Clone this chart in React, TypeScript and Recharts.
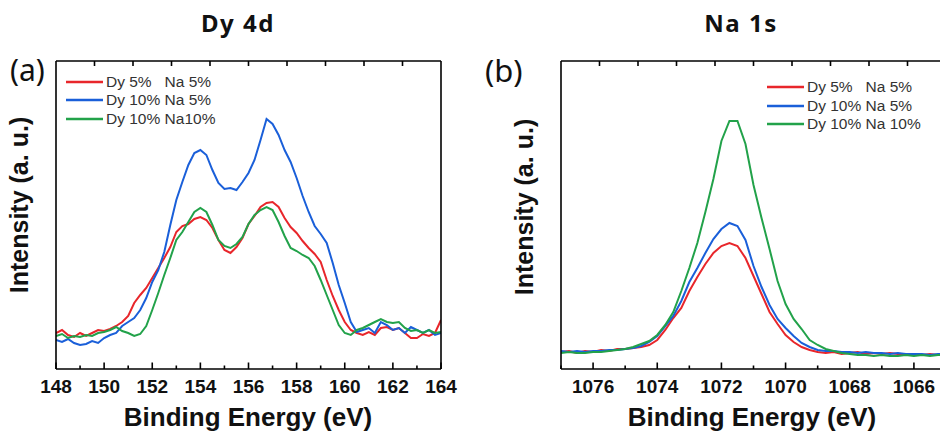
import React from 'react';
import { LineChart, Line, XAxis, YAxis, Legend, ReferenceLine } from 'recharts';

// ---- Dy 4d panel ----
const DY_ENERGY = [148,148.25,148.5,148.75,149,149.25,149.5,149.75,150,150.25,150.5,150.75,151,151.25,151.5,151.75,152,152.25,152.5,152.75,153,153.25,153.5,153.75,154,154.25,154.5,154.75,155,155.25,155.5,155.75,156,156.25,156.5,156.75,157,157.25,157.5,157.75,158,158.25,158.5,158.75,159,159.25,159.5,159.75,160,160.25,160.5,160.75,161,161.25,161.5,161.75,162,162.25,162.5,162.75,163,163.25,163.5,163.75,164];
const DY_RED = [36,39,34,32,36,33,36,39, 38,40,43,47,53,66,74,81, 91,101,111,122,137,143,145,150, 152,149,141,129,119,116,122,131, 145,153,162,166,167,162,151,142, 136,128,121,115,107,89,73,59, 47,39,36,34,37,34,41,42, 39,41,36,31,31,35,33,36, 49];
const DY_BLUE = [29,27,30,26,24,25,28,26, 31,34,36,43,47,51,59,71, 87,99,117,144,169,187,204,216, 219,214,199,186,180,181,179,187, 196,209,229,250,245,234,219,207, 191,173,157,143,135,126,106,84, 66,47,37,39,41,36,47,44, 39,41,36,42,39,36,39,34, 36];
const DY_GREEN = [33,35,31,33,32,34,33,36, 37,39,42,38,36,33,35,43, 59,76,94,111,129,137,147,157, 161,157,144,129,123,121,125,132, 145,154,159,162,159,147,133,121, 118,114,111,103,89,74,59,44, 36,34,39,41,44,47,50,47, 46,47,41,38,39,36,39,36, 37];
const DY_TICKS = [148,149,150,151,152,153,154,155,156,157,158,159,160,161,162,163,164];
const DY_TOP_TICKS = [149.6,151.2,152.8,154.4,156,157.6,159.2,160.8,162.4];

// ---- Na 1s panel ----
const NA_ENERGY = [1077,1076.75,1076.5,1076.25,1076,1075.75,1075.5,1075.25,1075,1074.75,1074.5,1074.25,1074,1073.75,1073.5,1073.25,1073,1072.75,1072.5,1072.25,1072,1071.75,1071.5,1071.25,1071,1070.75,1070.5,1070.25,1070,1069.75,1069.5,1069.25,1069,1068.75,1068.5,1068.25,1068,1067.75,1067.5,1067.25,1067,1066.75,1066.5,1066.25,1066,1065.75,1065.5,1065.25,1065];
const NA_RED = [17,18,16,18,17,19,18,20, 20,21,22,24,29,39,51,61, 78,92,105,116,123,126,123,111, 93,75,57,45,34,27,22,19, 17,16,17,15,16,17,15,16, 15,16,15,14,15,14,15,14, 14];
const NA_BLUE = [18,17,18,17,18,18,19,19, 20,21,23,27,33,43,53,68, 87,101,116,130,140,146,143,129, 103,82,64,50,41,33,26,22, 19,18,18,17,17,16,17,16, 16,15,16,15,15,15,14,15, 15];
const NA_GREEN = [16,17,16,16,17,17,18,19, 20,22,25,28,34,44,57,78, 101,126,157,190,228,248,248,225, 184,151,120,88,65,50,40,29, 24,20,18,16,15,14,14,13, 14,13,13,14,13,14,13,14, 14];
const NA_TICKS = [1065,1066,1067,1068,1069,1070,1071,1072,1073,1074,1075,1076,1077];
const NA_TOP_TICKS = [1075.8,1074.6,1073.4,1072.2,1071,1069.8,1068.6,1067.4,1066.2];

const Y_MAX = 308;
const TOP_TICK_LEN = 5;

const SERIES_KEYS = ['red', 'blue', 'green'];
const DY_NAMES = ['Dy 5%   Na 5%', 'Dy 10% Na 5%', 'Dy 10% Na10%'];
const NA_NAMES = ['Dy 5%   Na 5%', 'Dy 10% Na 5%', 'Dy 10% Na 10%'];

const RED = '#e8262b';
const BLUE = '#1a5fd9';
const GREEN = '#22a24a';

const dyData = DY_ENERGY.map((e, i) => ({ e, red: DY_RED[i], blue: DY_BLUE[i], green: DY_GREEN[i] }));
const naData = NA_ENERGY.map((e, i) => ({ e, red: NA_RED[i], blue: NA_BLUE[i], green: NA_GREEN[i] }));

const LABEL_FONT = '"Liberation Sans", Arial, sans-serif';

const BottomTick = (props: any) => {
  const { x, y, payload } = props;
  const v = payload.value;
  const major = v % 2 === 0;
  return (
    <g>
      <line x1={x} x2={x} y1={y} y2={y - (major ? 6.5 : 3.5)} stroke="#000" strokeWidth={1.6} />
      {major && (
        <text x={x} y={y + 24} textAnchor="middle" fontFamily={LABEL_FONT} fontWeight="bold" fontSize={19} fill="#111">
          {v}
        </text>
      )}
    </g>
  );
};

const LegendContent = (props: any) => {
  const items = [...(props.payload || [])].sort(
    (a: any, b: any) => SERIES_KEYS.indexOf(a.dataKey) - SERIES_KEYS.indexOf(b.dataKey)
  );
  return (
    <div>
      {items.map((p: any, i: number) => (
        <div key={i} style={{ display: 'flex', alignItems: 'center', height: 18.5 }}>
          <svg width={37} height={4} style={{ display: 'block' }}>
            <line x1={0} x2={37} y1={2} y2={2} stroke={p.color} strokeWidth={2.5} />
          </svg>
          <span style={{ marginLeft: 3, fontFamily: LABEL_FONT, fontSize: 15.5, color: '#333', whiteSpace: 'pre', lineHeight: '18px' }}>
            {p.value}
          </span>
        </div>
      ))}
    </div>
  );
};

const FRAME = { stroke: '#000', strokeWidth: 1.6 };

function Panel(props: {
  data: any[];
  width: number;
  margin: any;
  domain: [number, number];
  ticks: number[];
  topTicks: number[];
  reversed: boolean;
  names: string[];
  legendPos: { left: number; top: number };
}) {
  const { data, width, margin, domain, ticks, topTicks, reversed, names, legendPos } = props;
  return (
    <LineChart width={width} height={435} margin={margin} data={data}>
      <XAxis
        dataKey="e"
        type="number"
        domain={domain}
        ticks={ticks}
        interval={0}
        reversed={reversed}
        allowDataOverflow
        height={1}
        tickSize={0}
        tickMargin={0}
        tickLine={false}
        axisLine={FRAME}
        tick={<BottomTick />}
      />
      <XAxis
        xAxisId="top"
        orientation="top"
        type="number"
        domain={[0, 10]}
        allowDataOverflow
        height={1}
        tick={false}
        tickLine={false}
        axisLine={FRAME}
      />
      <YAxis type="number" domain={[0, Y_MAX]} width={1} tick={false} tickLine={false} axisLine={FRAME} allowDataOverflow />
      <YAxis yAxisId="r" orientation="right" type="number" domain={[0, Y_MAX]} allowDataOverflow width={1} tick={false} tickLine={false} axisLine={FRAME} />
      {topTicks.map((t) => (
        <ReferenceLine
          key={'tt' + t}
          segment={[{ x: t, y: Y_MAX }, { x: t, y: Y_MAX - TOP_TICK_LEN }]}
          stroke="#000"
          strokeWidth={1.6}
          ifOverflow="visible"
        />
      ))}
      <Legend
        layout="vertical"
        align="center"
        verticalAlign="middle"
        content={<LegendContent />}
        wrapperStyle={{ position: 'absolute', left: legendPos.left, top: legendPos.top, width: 'auto', height: 'auto' }}
      />
      <Line type="linear" dataKey="red" name={names[0]} stroke={RED} strokeWidth={2} dot={false} isAnimationActive={false} />
      <Line type="linear" dataKey="blue" name={names[1]} stroke={BLUE} strokeWidth={2} dot={false} isAnimationActive={false} />
      <Line type="linear" dataKey="green" name={names[2]} stroke={GREEN} strokeWidth={2} dot={false} isAnimationActive={false} />
    </LineChart>
  );
}

export default function App() {
  const titleFont = '"Noto Sans", "Open Sans", sans-serif';
  return (
    <div style={{ position: 'absolute', left: 0, top: 0, width: 940, height: 435, overflow: 'hidden', background: '#fff' }}>
      <div style={{ position: 'absolute', left: 0, top: 0 }}>
        <Panel
          data={dyData}
          width={470}
          margin={{ top: 60, right: 28, bottom: 65, left: 55 }}
          domain={[148, 164]}
          ticks={DY_TICKS}
          topTicks={DY_TOP_TICKS}
          reversed={false}
          names={DY_NAMES}
          legendPos={{ left: 66, top: 72.5 }}
        />
      </div>
      <div style={{ position: 'absolute', left: 470, top: 0 }}>
        <Panel
          data={naData}
          width={500}
          margin={{ top: 60, right: 23, bottom: 65, left: 90 }}
          domain={[1065, 1077]}
          ticks={NA_TICKS}
          topTicks={NA_TOP_TICKS}
          reversed={true}
          names={NA_NAMES}
          legendPos={{ left: 297, top: 78 }}
        />
      </div>
      <svg width={940} height={435} style={{ position: 'absolute', left: 0, top: 0, pointerEvents: 'none' }}>
        <text x={238} y={32} textAnchor="middle" fontFamily={titleFont} fontWeight="bold" fontSize={24} letterSpacing={1.5} fill="#111">Dy 4d</text>
        <text x={741} y={32} textAnchor="middle" fontFamily={titleFont} fontWeight="bold" fontSize={24} letterSpacing={1.5} fill="#111">Na 1s</text>
        <text x={10} y={81} fontFamily={titleFont} fontSize={30} fill="#111">(a)</text>
        <text x={485} y={82} fontFamily={titleFont} fontSize={31} fill="#111">(b)</text>
        <text x={248} y={426} textAnchor="middle" fontFamily={LABEL_FONT} fontWeight="bold" fontSize={26} fill="#111">Binding Energy (eV)</text>
        <text x={752} y={426} textAnchor="middle" fontFamily={LABEL_FONT} fontWeight="bold" fontSize={26} fill="#111">Binding Energy (eV)</text>
        <text x={28} y={205} textAnchor="middle" transform="rotate(-90 28 205)" fontFamily={LABEL_FONT} fontWeight="bold" fontSize={25} fill="#111">Intensity (a. u.)</text>
        <text x={533} y={207} textAnchor="middle" transform="rotate(-90 533 207)" fontFamily={LABEL_FONT} fontWeight="bold" fontSize={25} fill="#111">Intensity (a. u.)</text>
      </svg>
    </div>
  );
}
